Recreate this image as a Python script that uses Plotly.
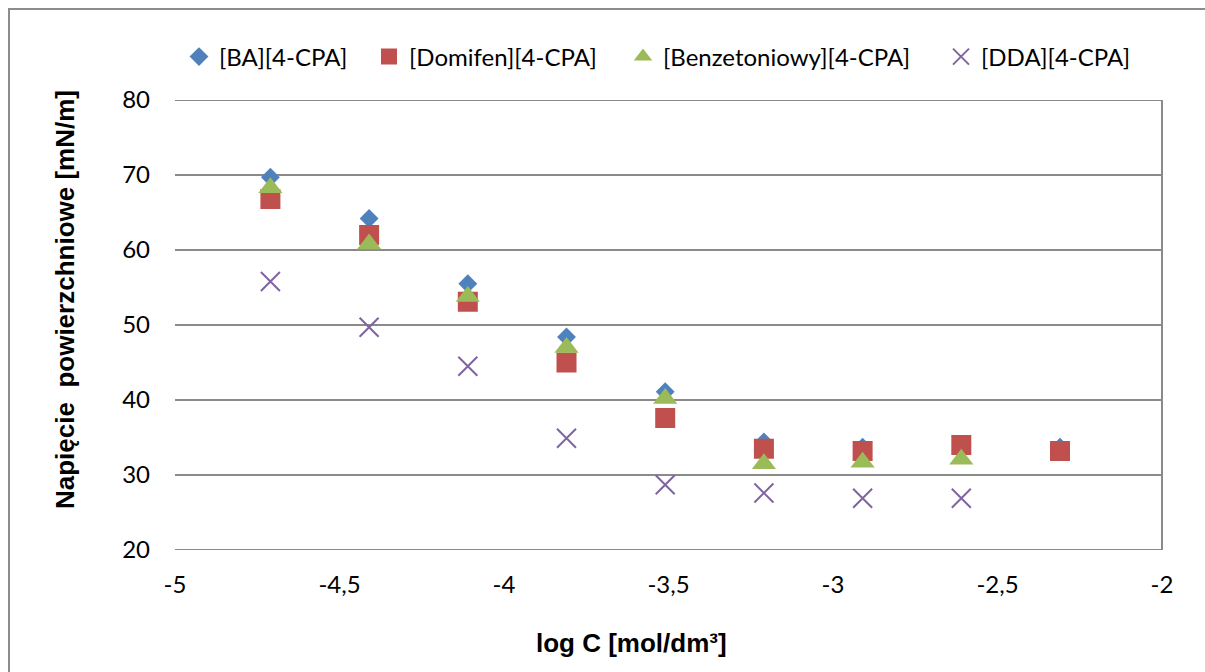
import plotly.graph_objects as go

# Surface tension vs. log concentration for four 4-CPA salts
log_c = [-4.71, -4.41, -4.11, -3.81, -3.51, -3.21, -2.91, -2.61, -2.31]
ba = [69.7, 64.2, 55.5, 48.4, 41.1, 34.4, 33.7, 34.0, 33.7]
domifen = [66.8, 62.0, 53.1, 45.0, 37.6, 33.5, 33.2, 34.0, 33.2]
benzetoniowy = [68.3, 60.8, 53.8, 47.0, 40.2, 31.5, 31.7, 32.1, None]
dda = [55.8, 49.7, 44.5, 34.9, 28.7, 27.6, 26.9, 26.9, None]

series_names = ["[BA][4-CPA]", "[Domifen][4-CPA]", "[Benzetoniowy][4-CPA]", "[DDA][4-CPA]"]
x_ticks = [-5, -4.5, -4, -3.5, -3, -2.5, -2]
x_tick_text = ["-5", "-4,5", "-4", "-3,5", "-3", "-2,5", "-2"]
y_ticks = [20, 30, 40, 50, 60, 70, 80]

W, H = 1205, 672
L, R, T, B = 175, 1162, 100, 550  # plot area in pixels


def px_x(p):
    return (p - L) / (R - L)


def px_y(p):
    return (B - p) / (B - T)


GRID = "#8a8a8a"
LABEL_FONT = "Lato, Carlito, Calibri, sans-serif"
TITLE_FONT = "Liberation Sans, Arial, sans-serif"

fig = go.Figure()

fig.add_trace(go.Scatter(
    x=log_c, y=ba, mode="markers", name=series_names[0], legend="legend",
    marker=dict(symbol="diamond", size=14.5, color="#4F81BD"),
))
fig.add_trace(go.Scatter(
    x=log_c, y=domifen, mode="markers", name=series_names[1], legend="legend2",
    marker=dict(symbol="square", size=20, color="#C0504D"),
))
fig.add_trace(go.Scatter(
    x=log_c, y=benzetoniowy, mode="markers", name=series_names[2], legend="legend3",
    marker=dict(symbol="triangle-up", size=21, color="#9BBB59"),
))
fig.add_trace(go.Scatter(
    x=log_c, y=dda, mode="markers", name=series_names[3], legend="legend4",
    marker=dict(symbol="x-thin", size=19, color="#8064A2",
                line=dict(color="#8064A2", width=2)),
))

legend_common = dict(
    orientation="h", yanchor="middle", xanchor="left",
    y=px_y(57), bgcolor="rgba(0,0,0,0)", borderwidth=0,
    font=dict(family=LABEL_FONT, size=24, color="#000000"),
)
legend_marker_px = [199, 389, 643, 961]
legends = {}
for i, mx in enumerate(legend_marker_px):
    key = "legend" if i == 0 else f"legend{i + 1}"
    legends[key] = dict(legend_common, x=px_x(mx - 20))

# horizontal grid lines at every y tick (edges included)
grid_shapes = [
    dict(type="line", xref="x domain", yref="y", x0=0, x1=1, y0=v, y1=v,
         line=dict(color=GRID, width=2), layer="below")
    for v in y_ticks
]

fig.update_layout(
    width=W, height=H,
    margin=dict(l=L, r=W - R, t=T, b=H - B),
    paper_bgcolor="white", plot_bgcolor="white",
    showlegend=True,
    **legends,
    xaxis=dict(
        range=[-5, -2], tickvals=x_ticks, ticktext=x_tick_text,
        showgrid=False, zeroline=False, showline=False, ticks="",
        ticklabelstandoff=18,
        tickfont=dict(family=LABEL_FONT, size=24, color="#000000"),
    ),
    yaxis=dict(
        range=[20, 80], tickvals=y_ticks,
        showgrid=False, zeroline=False, showline=False, ticks="",
        ticklabelstandoff=24,
        tickfont=dict(family=LABEL_FONT, size=24, color="#000000"),
    ),
    shapes=grid_shapes + [
        # right edge of the plot area
        dict(type="line", xref="x domain", yref="y domain", x0=1, x1=1, y0=0, y1=1,
             line=dict(color=GRID, width=2), layer="below"),
        # outer chart frame
        dict(type="rect", xref="paper", yref="paper",
             x0=px_x(9), x1=px_x(1215), y0=px_y(9), y1=px_y(690),
             line=dict(color="#8c8c8c", width=2), fillcolor="rgba(0,0,0,0)", layer="below"),
    ],
    annotations=[
        dict(text="log C [mol/dm³]", xref="paper", yref="paper",
             x=px_x(631), y=px_y(643), xanchor="center", yanchor="middle", showarrow=False,
             font=dict(family=TITLE_FONT, size=26, color="#000000", weight="bold")),
        dict(text="Napięcie  powierzchniowe [mN/m]", xref="paper", yref="paper",
             x=px_x(65), y=px_y(300), xanchor="center", yanchor="middle", showarrow=False,
             textangle=-90,
             font=dict(family=TITLE_FONT, size=26, color="#000000", weight="bold")),
    ],
)

fig.write_html("out.html")
